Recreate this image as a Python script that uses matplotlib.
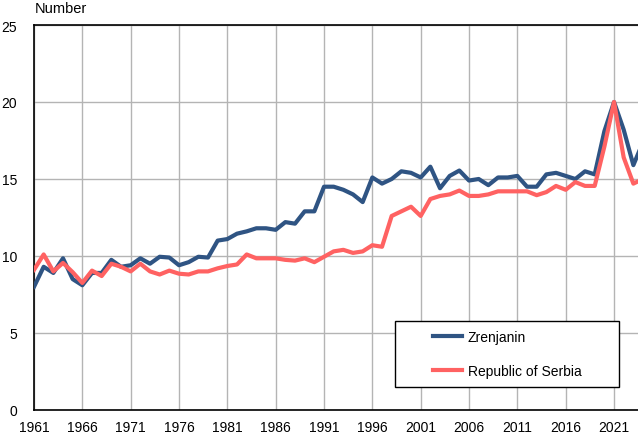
import numpy as np
import matplotlib.pyplot as plt
from matplotlib.patches import Rectangle

plt.rcParams['font.family'] = ['Liberation Sans', 'DejaVu Sans']

# Data
years = list(range(1961, 2025))

zrenjanin = [8.0, 9.3, 8.9, 9.85, 8.5, 8.1, 8.9, 8.9, 9.75, 9.3,
             9.4, 9.85, 9.5, 9.95, 9.9, 9.4, 9.6, 9.95, 9.9, 11.0,
             11.1, 11.45, 11.6, 11.8, 11.8, 11.7, 12.2, 12.1, 12.9, 12.9,
             14.5, 14.5, 14.3, 14.0, 13.5, 15.1, 14.7, 15.0, 15.5, 15.4,
             15.1, 15.8, 14.4, 15.2, 15.55, 14.9, 15.0, 14.6, 15.1, 15.1,
             15.2, 14.5, 14.5, 15.3, 15.4, 15.2, 15.0, 15.5, 15.3, 18.1,
             20.0, 18.2, 15.9, 17.4]

serbia = [9.1, 10.1, 9.0, 9.55, 8.95, 8.25, 9.05, 8.7, 9.5, 9.3,
          9.0, 9.5, 9.0, 8.8, 9.05, 8.85, 8.8, 9.0, 9.0, 9.2,
          9.35, 9.45, 10.1, 9.85, 9.85, 9.85, 9.75, 9.7, 9.85, 9.6,
          9.95, 10.3, 10.4, 10.2, 10.3, 10.7, 10.6, 12.6, 12.9, 13.2,
          12.6, 13.7, 13.9, 14.0, 14.25, 13.9, 13.9, 14.0, 14.2, 14.2,
          14.2, 14.2, 13.95, 14.15, 14.55, 14.3, 14.8, 14.55, 14.55, 17.1,
          20.0, 16.4, 14.7, 15.0]

x_ticks = list(range(1961, 2022, 5))
y_ticks = [0, 5, 10, 15, 20, 25]

fig = plt.figure(figsize=(6.38, 4.35), dpi=100)
ax = fig.add_axes([34 / 638, 24 / 435, 604 / 638, 385 / 435])

ax.plot(years, zrenjanin, color='#2f5483', lw=3, label='Zrenjanin', zorder=3)
ax.plot(years, serbia, color='#ff6262', lw=3, label='Republic of Serbia', zorder=3)

ax.set_xlim(1961, 2023.48)
ax.set_ylim(0, 25)
ax.set_xticks(x_ticks)
ax.set_yticks(y_ticks)
ax.tick_params(axis='both', length=0, labelsize=10, colors='black')
ax.tick_params(axis='y', pad=12)
ax.tick_params(axis='x', pad=7)
ax.grid(True, color='#b4b4b4', lw=1)
ax.set_axisbelow(True)

ax.spines['right'].set_visible(False)
for s in ['left', 'bottom', 'top']:
    ax.spines[s].set_color('black')
    ax.spines[s].set_linewidth(1.2)

# legend box
box = Rectangle((0.598, 0.06), 0.3705, 0.171, transform=ax.transAxes,
                facecolor='white', edgecolor='black', lw=1, zorder=4)
ax.add_patch(box)
leg = ax.legend(loc='center', bbox_to_anchor=(0.598, 0.06, 0.3705, 0.171),
                frameon=False, fontsize=10, handlelength=2.1,
                handletextpad=0.4, labelspacing=1.45)
leg.set_zorder(5)

fig.text(35 / 638, 1 - 2 / 435, 'Number', fontsize=10.5, va='top', ha='left')

fig.savefig('out.png', dpi=100)
